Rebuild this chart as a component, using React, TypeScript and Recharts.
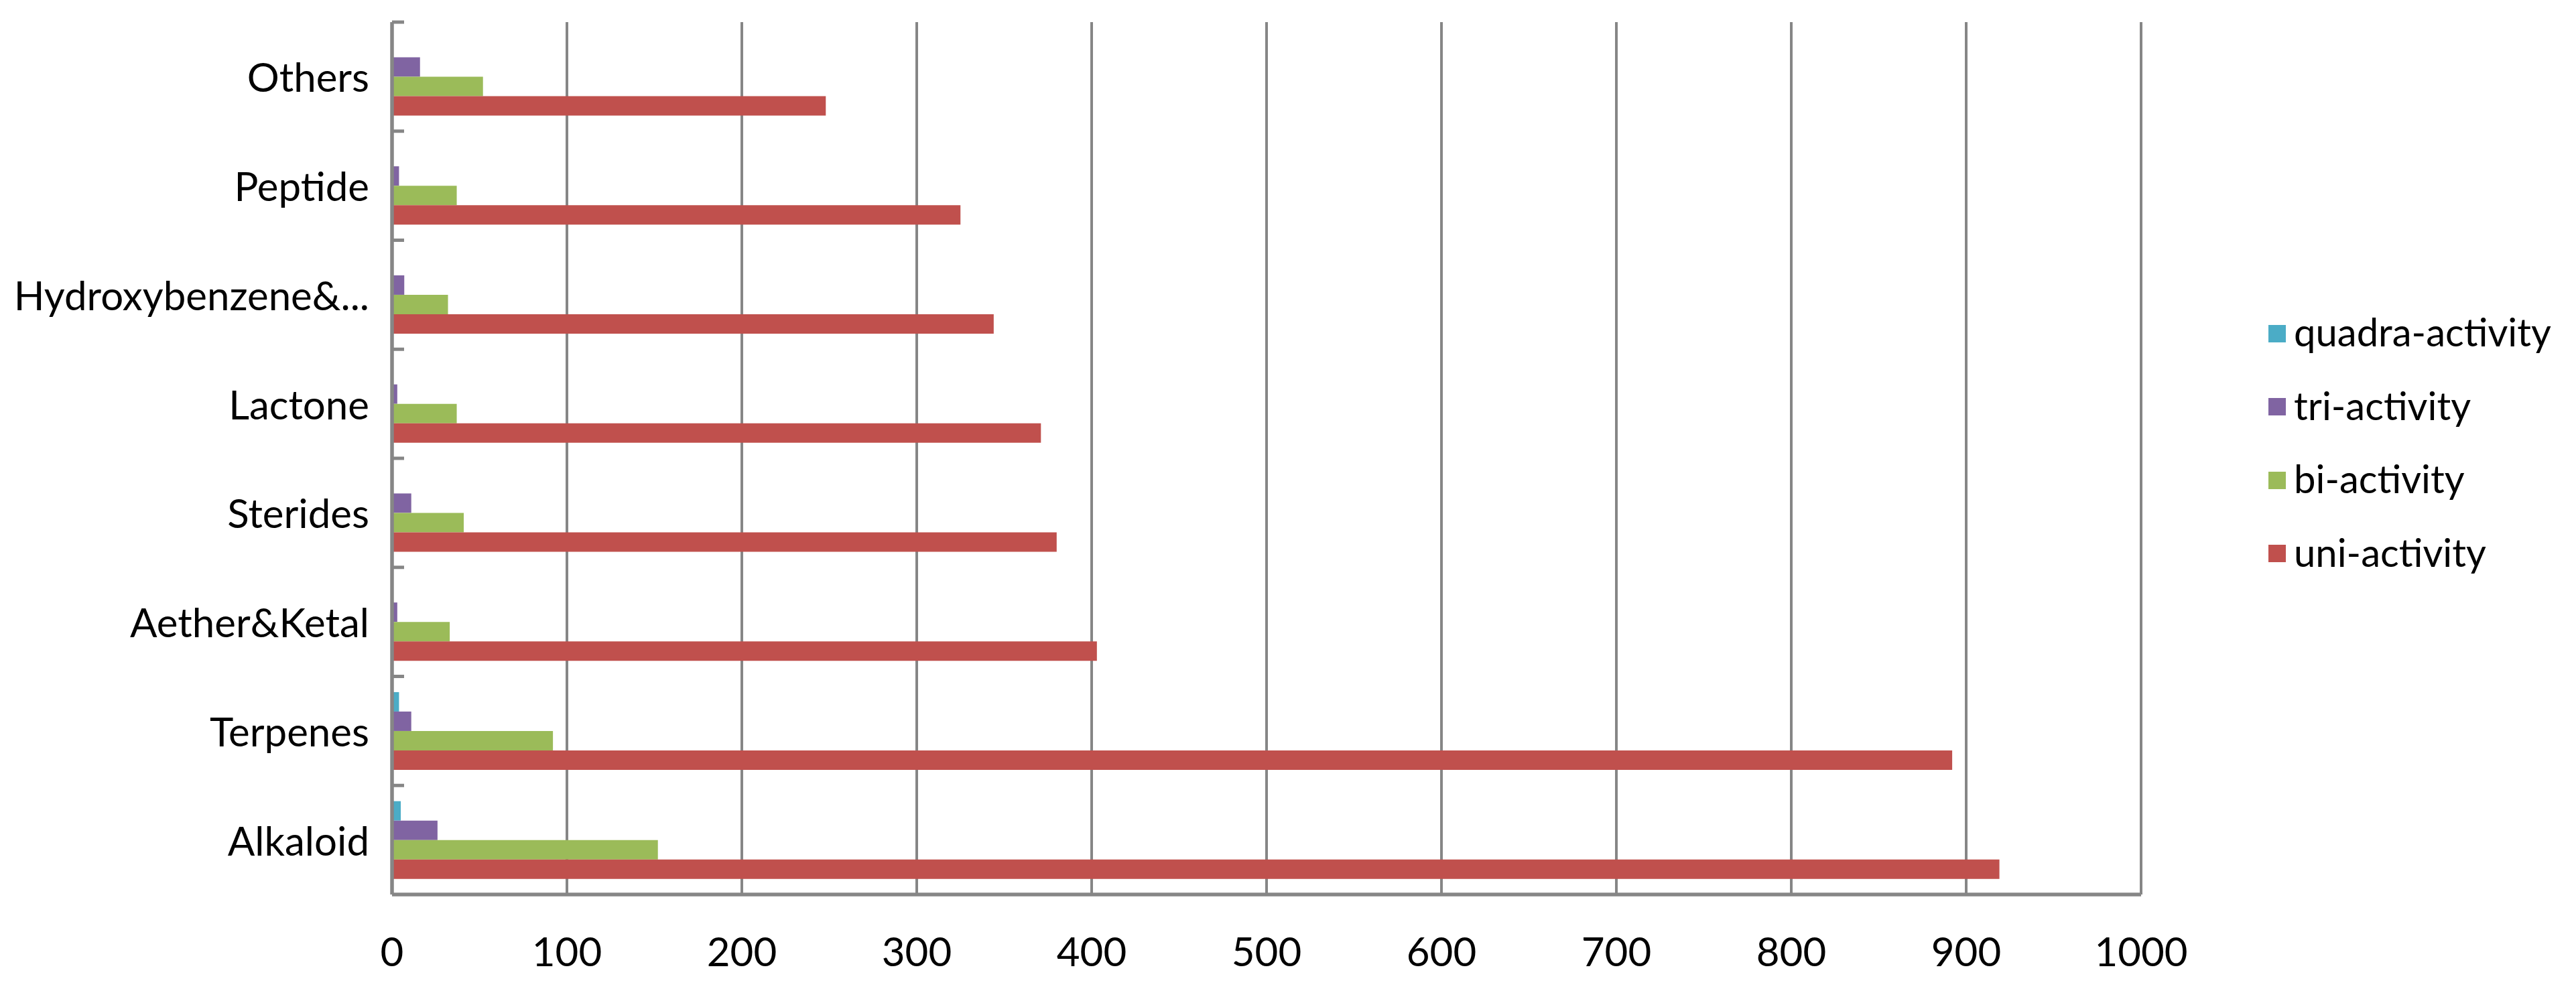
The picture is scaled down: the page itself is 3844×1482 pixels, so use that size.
import React from "react";
import { Bar, BarChart, CartesianGrid, Legend, XAxis, YAxis } from "recharts";

const categories = [
  "Others",
  "Peptide",
  "Hydroxybenzene&...",
  "Lactone",
  "Sterides",
  "Aether&Ketal",
  "Terpenes",
  "Alkaloid",
];
const quadraActivity = [0, 0, 0, 0, 0, 0, 4, 5];
const triActivity = [16, 4, 7, 3, 11, 3, 11, 26];
const biActivity = [52, 37, 32, 37, 41, 33, 92, 152];
const uniActivity = [248, 325, 344, 371, 380, 403, 892, 919];
const xTicks = [0, 100, 200, 300, 400, 500, 600, 700, 800, 900, 1000];
const seriesNames = ["quadra-activity", "tri-activity", "bi-activity", "uni-activity"];

const data = categories.map((name, i) => ({
  name,
  quadra: quadraActivity[i],
  tri: triActivity[i],
  bi: biActivity[i],
  uni: uniActivity[i],
}));

const W = 3844;
const H = 1482;
const FONT = "Lato, 'Liberation Sans', sans-serif";
const FONT_SIZE = 60;
const LEGEND_FONT_SIZE = 58;
const GRID = "#868686";
const LABEL_GAP = 34;

// category labels plus Excel-style inside tick marks on the band edges
function CategoryTick(props: any) {
  const { x, y, payload, height, visibleTicksCount } = props;
  const band = height && visibleTicksCount ? height / visibleTicksCount : 162.75;
  const axisX = x + LABEL_GAP;
  const edge = y - band / 2;
  return (
    <g>
      <line x1={axisX} x2={axisX + 18} y1={edge} y2={edge} stroke={GRID} strokeWidth={5} />
      <text
        x={x}
        y={y}
        textAnchor="end"
        dominantBaseline="central"
        fontFamily={FONT}
        fontSize={FONT_SIZE}
        fill="#000"
      >
        {payload.value}
      </text>
    </g>
  );
}

function LegendBox({ payload }: any) {
  const items = [...(payload || [])].sort(
    (a: any, b: any) => seriesNames.indexOf(a.value) - seriesNames.indexOf(b.value)
  );
  return (
    <div style={{ fontFamily: FONT, fontSize: LEGEND_FONT_SIZE, color: "#000" }}>
      {items.map((item: any) => (
        <div key={item.value} style={{ display: "flex", alignItems: "center", height: 109.5, lineHeight: "109.5px" }}>
          <span style={{ width: 26, height: 26, background: item.color, marginRight: 12, marginTop: 6, flex: "none" }} />
          <span style={{ whiteSpace: "nowrap" }}>{item.value}</span>
        </div>
      ))}
    </div>
  );
}

export default function App() {
  return (
    <div style={{ position: "absolute", left: 0, top: 0, width: W, height: H, background: "#fff" }}>
      <BarChart
        width={W}
        height={H}
        data={data}
        layout="vertical"
        margin={{ top: 33, right: 649, bottom: 0, left: 0 }}
        barCategoryGap="14.4%"
        barGap={0}
      >
        <CartesianGrid horizontal={false} stroke={GRID} strokeWidth={4} />
        <XAxis
          type="number"
          domain={[0, 1000]}
          ticks={xTicks}
          interval={0}
          height={147}
          axisLine={{ stroke: GRID, strokeWidth: 5.5 }}
          tickLine={false}
          tickSize={0}
          tickMargin={64}
          tick={{ fontFamily: FONT, fontSize: FONT_SIZE, fill: "#000" }}
        />
        <YAxis
          type="category"
          dataKey="name"
          width={585}
          axisLine={{ stroke: GRID, strokeWidth: 5.5 }}
          tickLine={false}
          tickSize={0}
          tickMargin={LABEL_GAP}
          interval={0}
          tick={<CategoryTick />}
        />
        <Legend
          layout="vertical"
          align="center"
          verticalAlign="middle"
          itemSorter={(item: any) => seriesNames.indexOf(item.value)}
          content={<LegendBox />}
          wrapperStyle={{ left: 3385, top: 440, width: 459 }}
        />
        <Bar dataKey="quadra" name={seriesNames[0]} fill="#4BACC6" isAnimationActive={false} />
        <Bar dataKey="tri" name={seriesNames[1]} fill="#8064A2" isAnimationActive={false} />
        <Bar dataKey="bi" name={seriesNames[2]} fill="#9BBB59" isAnimationActive={false} />
        <Bar dataKey="uni" name={seriesNames[3]} fill="#C0504D" isAnimationActive={false} />
      </BarChart>
    </div>
  );
}
